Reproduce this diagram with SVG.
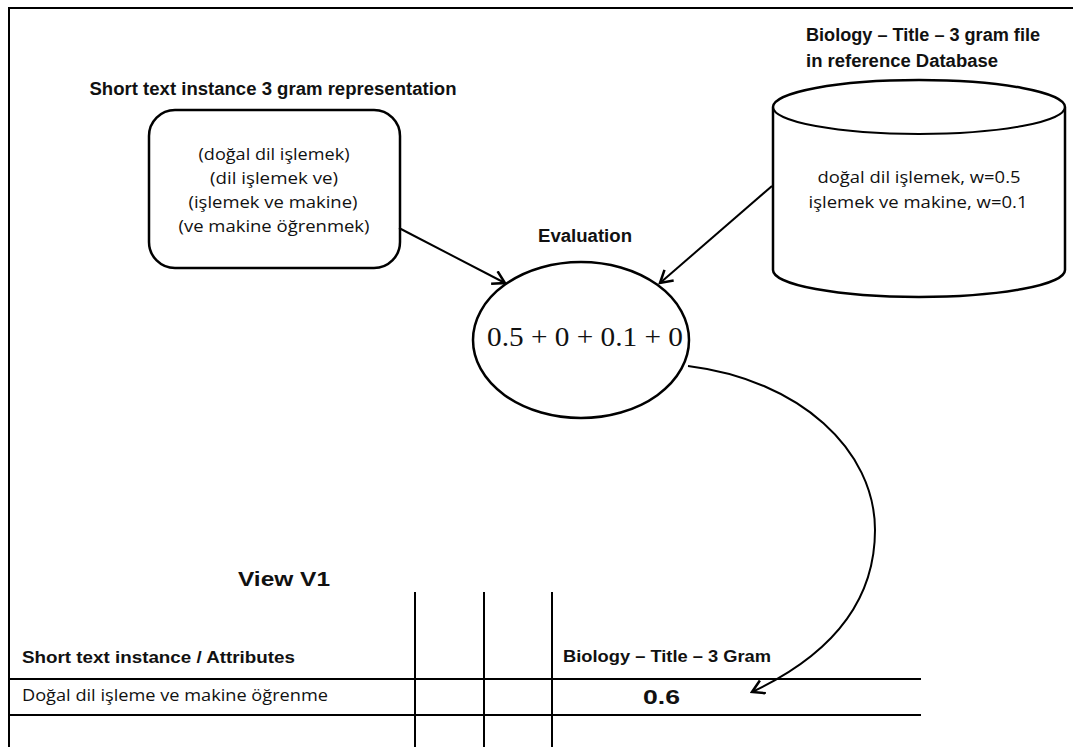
<svg xmlns="http://www.w3.org/2000/svg" width="1073" height="747" viewBox="0 0 1073 747">
<style>
.ln{stroke:#000;stroke-width:2;fill:none}
.shape{stroke:#000;stroke-width:2.5;fill:#fff}
.b{font-family:"Liberation Sans",Arial,sans-serif;font-weight:bold;fill:#111}
.r{font-family:"Open Sans","Liberation Sans",sans-serif;fill:#111}
.m{font-family:"Liberation Serif","DejaVu Serif",serif;fill:#111}
</style>
<defs>
<marker id="ah" markerWidth="16" markerHeight="16" refX="14" refY="8" orient="auto" markerUnits="userSpaceOnUse">
<path d="M2,1 L14,8 L2,15" fill="none" stroke="#000" stroke-width="2.5"/>
</marker>
</defs>
<rect width="1073" height="747" fill="#fff"/>
<g id="frame">
<path class="ln" d="M9,747 V8 H1073" stroke-width="2.5"/>
</g>
<g id="representation">
<text class="b" x="273" y="95" font-size="18" text-anchor="middle" textLength="367" lengthAdjust="spacingAndGlyphs">Short text instance 3 gram representation</text>
<rect class="shape" x="149" y="110" width="251" height="158" rx="26"/>
<text class="r" x="274" y="160" font-size="16.5" text-anchor="middle" textLength="151" lengthAdjust="spacingAndGlyphs">(doğal dil işlemek)</text>
<text class="r" x="274" y="184" font-size="16.5" text-anchor="middle" textLength="128" lengthAdjust="spacingAndGlyphs">(dil işlemek ve)</text>
<text class="r" x="273" y="208" font-size="16.5" text-anchor="middle" textLength="169" lengthAdjust="spacingAndGlyphs">(işlemek ve makine)</text>
<text class="r" x="274" y="232" font-size="16.5" text-anchor="middle" textLength="191" lengthAdjust="spacingAndGlyphs">(ve makine öğrenmek)</text>
</g>
<g id="database">
<text class="b" x="806" y="41" font-size="18" textLength="234" lengthAdjust="spacingAndGlyphs">Biology – Title – 3 gram file</text>
<text class="b" x="806" y="67" font-size="18" textLength="192" lengthAdjust="spacingAndGlyphs">in reference Database</text>
<path class="shape" d="M773,107 V270 A146,27 0 0 0 1065,270 V107 A146,27 0 0 0 773,107 Z"/>
<path class="ln" stroke-width="2.5" d="M773,107 A146,27 0 0 0 1065,107"/>
<text class="r" x="919" y="183" font-size="16.5" text-anchor="middle" textLength="203" lengthAdjust="spacingAndGlyphs">doğal dil işlemek, w=0.5</text>
<text class="r" x="918" y="208" font-size="16.5" text-anchor="middle" textLength="219" lengthAdjust="spacingAndGlyphs">işlemek ve makine, w=0.1</text>
</g>
<g id="evaluation">
<text class="b" x="585" y="242" font-size="18" text-anchor="middle" textLength="94" lengthAdjust="spacingAndGlyphs">Evaluation</text>
<ellipse class="shape" cx="581" cy="340" rx="108" ry="78"/>
<text class="m" x="585" y="346" font-size="28" text-anchor="middle" textLength="196" lengthAdjust="spacingAndGlyphs">0.5 + 0 + 0.1 + 0</text>
</g>
<g id="connectors">
<path class="ln" stroke-width="2.5" d="M399,228 L505,283" marker-end="url(#ah)"/>
<path class="ln" stroke-width="2.5" d="M772,186 L660,283" marker-end="url(#ah)"/>
<path class="ln" stroke-width="2.5" d="M688,366 C800,380 875,450 875,530 C875,610 820,660 752,692" marker-end="url(#ah)"/>
</g>
<g id="table">
<text class="b" x="238" y="586" font-size="21" textLength="92" lengthAdjust="spacingAndGlyphs">View V1</text>
<path class="ln" d="M415,592 V747 M484,592 V747 M552,592 V747"/>
<path class="ln" d="M9,679 H921 M9,715 H921"/>
<text class="b" x="22" y="663" font-size="17" textLength="273" lengthAdjust="spacingAndGlyphs">Short text instance / Attributes</text>
<text class="b" x="563" y="662" font-size="17" textLength="208" lengthAdjust="spacingAndGlyphs">Biology – Title – 3 Gram</text>
<text class="r" x="22" y="701" font-size="16" textLength="306" lengthAdjust="spacingAndGlyphs">Doğal dil işleme  ve makine öğrenme</text>
<text class="b" x="643" y="704" font-size="21" textLength="37" lengthAdjust="spacingAndGlyphs">0.6</text>
</g>
</svg>
